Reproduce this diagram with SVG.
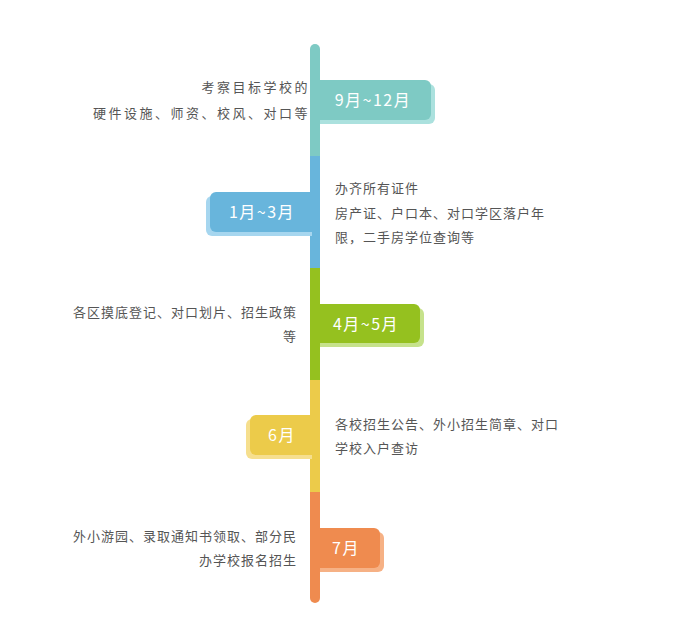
<svg xmlns="http://www.w3.org/2000/svg" width="675" height="635" viewBox="0 0 675 635">
<style>
.t{font-family:"Noto Sans CJK SC","Liberation Sans",sans-serif;font-size:13px;fill:#555;letter-spacing:1px}
.tag{font-family:"Noto Sans CJK SC","Liberation Sans",sans-serif;font-size:16px;fill:#fff;text-anchor:middle;letter-spacing:1.5px}
.r{text-anchor:end}
.w{letter-spacing:2.5px}
</style>
<rect width="675" height="635" fill="#fff"/>
<g id="timeline">
<path d="M310 156 V49 a5 5 0 0 1 10 0 V156 Z" fill="#7ECAC4"/>
<rect x="310" y="156" width="10" height="112" fill="#68B5DC"/>
<rect x="310" y="268" width="10" height="112" fill="#95C11F"/>
<rect x="310" y="380" width="10" height="112" fill="#ECCB4A"/>
<path d="M310 492 H320 V598 a5 5 0 0 1 -10 0 Z" fill="#EF8B4F"/>
</g>
<g id="node1">
<path d="M320 84 H429 a6 6 0 0 1 6 6 V118 a6 6 0 0 1 -6 6 H320 Z" fill="#ABE1DE"/>
<path d="M318 80 H425 a6 6 0 0 1 6 6 V114 a6 6 0 0 1 -6 6 H318 Z" fill="#7ECAC4"/>
<text class="tag" x="373" y="106">9月~12月</text>
<text class="t r w" x="310" y="92">考察目标学校的</text>
<text class="t r w" x="310" y="118">硬件设施、师资、校风、对口等</text>
</g>
<g id="node2">
<path d="M312 196 H212 a6 6 0 0 0 -6 6 V230 a6 6 0 0 0 6 6 H312 Z" fill="#A6D6EF"/>
<path d="M312 192 H216 a6 6 0 0 0 -6 6 V226 a6 6 0 0 0 6 6 H312 Z" fill="#68B5DC"/>
<text class="tag" x="262" y="218">1月~3月</text>
<text class="t" x="335" y="193">办齐所有证件</text>
<text class="t" x="335" y="217.5">房产证、户口本、对口学区落户年</text>
<text class="t" x="335" y="242">限，二手房学位查询等</text>
</g>
<g id="node3">
<path d="M320 308 H418 a6 6 0 0 1 6 6 V341 a6 6 0 0 1 -6 6 H320 Z" fill="#C6E28B"/>
<path d="M318 304 H414 a6 6 0 0 1 6 6 V337 a6 6 0 0 1 -6 6 H318 Z" fill="#95C11F"/>
<text class="tag" x="366" y="330">4月~5月</text>
<text class="t r" x="297" y="317">各区摸底登记、对口划片、招生政策</text>
<text class="t r" x="297" y="341">等</text>
</g>
<g id="node4">
<path d="M312 419 H252 a6 6 0 0 0 -6 6 V453 a6 6 0 0 0 6 6 H312 Z" fill="#F6DF8E"/>
<path d="M312 415 H256 a6 6 0 0 0 -6 6 V449 a6 6 0 0 0 6 6 H312 Z" fill="#ECCB4A"/>
<text class="tag" x="282" y="441">6月</text>
<text class="t" x="335" y="429">各校招生公告、外小招生简章、对口</text>
<text class="t" x="335" y="453">学校入户查访</text>
</g>
<g id="node5">
<path d="M320 532 H378 a6 6 0 0 1 6 6 V566 a6 6 0 0 1 -6 6 H320 Z" fill="#F6B185"/>
<path d="M318 528 H374 a6 6 0 0 1 6 6 V562 a6 6 0 0 1 -6 6 H318 Z" fill="#EF8B4F"/>
<text class="tag" x="346" y="554">7月</text>
<text class="t r" x="297" y="541">外小游园、录取通知书领取、部分民</text>
<text class="t r" x="297" y="565">办学校报名招生</text>
</g>
</svg>
